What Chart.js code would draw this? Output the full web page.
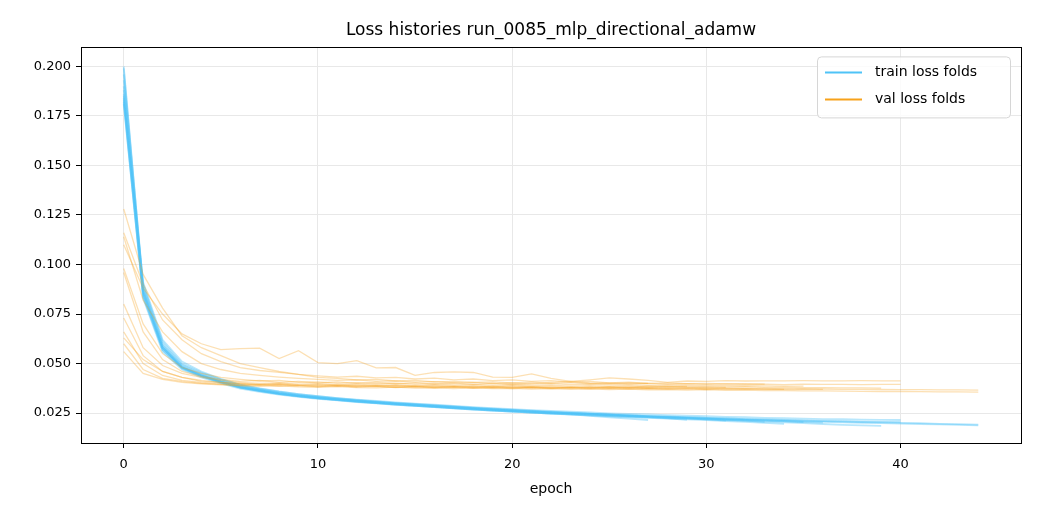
<!DOCTYPE html>
<html lang="en">
<head>
<meta charset="utf-8">
<title>Loss histories</title>
<script src="https://cdn.jsdelivr.net/npm/chart.js"></script>
<style>
  html, body { margin: 0; padding: 0; background: #fff; }
  #wrap { width: 1040px; height: 520px; }
</style>
</head>
<body>
<div id="wrap"><canvas id="lossChart" width="1040" height="520"></canvas></div>
<script>
// per-fold loss histories (one array per fold, index = epoch)
const trainLoss = [
  [0.200,0.088,0.059,0.049,0.0445,0.0412,0.0385,0.0368,0.0352,0.0340,0.0330,0.0321,0.0313,0.0306,0.0299,0.0293,0.0287,0.0281,0.0275,0.0269,0.0264,0.0259,0.0254,0.0250,0.0246,0.0242,0.0238,0.0235,0.0232,0.0229,0.0226,0.0223,0.0220,0.0217,0.0214,0.0212,0.0209,0.0207,0.0205,0.0203,0.0201,0.0199,0.0196,0.0194,0.0192],
  [0.183,0.084,0.057,0.0475,0.0435,0.0405,0.0378,0.0362,0.0347,0.0336,0.0326,0.0318,0.0310,0.0303,0.0296,0.0290,0.0284,0.0278,0.0272,0.0266,0.0261,0.0256,0.0252,0.0247,0.0243,0.0239,0.0235,0.0232,0.0229,0.0226,0.0223,0.0220,0.0217,0.0214,0.0211,0.0208,0.0206,0.0203,0.0201,0.0199,0.0197,0.0195,0.0193,0.0190,0.0188],
  [0.196,0.090,0.061,0.050,0.0455,0.0420,0.0392,0.0374,0.0358,0.0346,0.0335,0.0326,0.0318,0.0311,0.0304,0.0298,0.0292,0.0286,0.0280,0.0275,0.0270,0.0265,0.0261,0.0257,0.0253,0.0249,0.0246,0.0243,0.0240,0.0237,0.0234,0.0231,0.0229,0.0226,0.0224,0.0222,0.0220,0.0219,0.0217,0.0216,0.0215],
  [0.186,0.085,0.058,0.048,0.0440,0.0408,0.0381,0.0364,0.0349,0.0337,0.0327,0.0319,0.0311,0.0304,0.0297,0.0291,0.0285,0.0279,0.0273,0.0268,0.0263,0.0258,0.0254,0.0250,0.0246,0.0242,0.0238,0.0235,0.0232,0.0229,0.0226,0.0223,0.0220,0.0218,0.0215,0.0213,0.0211,0.0209,0.0207,0.0206,0.0205],
  [0.182,0.083,0.056,0.047,0.0430,0.0400,0.0374,0.0357,0.0343,0.0332,0.0322,0.0314,0.0306,0.0299,0.0292,0.0286,0.0280,0.0274,0.0268,0.0262,0.0257,0.0252,0.0247,0.0243,0.0239,0.0235,0.0231,0.0228,0.0225,0.0222,0.0219,0.0215,0.0211,0.0207,0.0203,0.0199,0.0195,0.0191,0.0188,0.0185],
  [0.193,0.087,0.059,0.0485,0.0442,0.0410,0.0383,0.0366,0.0350,0.0338,0.0328,0.0319,0.0311,0.0303,0.0296,0.0289,0.0283,0.0277,0.0271,0.0265,0.0260,0.0255,0.0250,0.0246,0.0242,0.0238,0.0234,0.0231,0.0228,0.0225,0.0222,0.0219,0.0216,0.0213,0.0209,0.0205],
  [0.190,0.086,0.058,0.048,0.0438,0.0406,0.0379,0.0362,0.0347,0.0335,0.0325,0.0316,0.0308,0.0300,0.0293,0.0286,0.0280,0.0274,0.0268,0.0262,0.0257,0.0252,0.0247,0.0242,0.0238,0.0234,0.0230,0.0226,0.0222,0.0218,0.0214,0.0210,0.0206,0.0201,0.0196],
  [0.188,0.089,0.060,0.0495,0.0450,0.0416,0.0388,0.0370,0.0355,0.0342,0.0332,0.0323,0.0315,0.0307,0.0300,0.0294,0.0288,0.0282,0.0276,0.0270,0.0265,0.0260,0.0255,0.0251,0.0247,0.0243,0.0239,0.0235,0.0231,0.0227,0.0222,0.0217,0.0212,0.0206],
  [0.199,0.087,0.058,0.0482,0.0440,0.0409,0.0382,0.0365,0.0350,0.0338,0.0328,0.0320,0.0312,0.0305,0.0298,0.0292,0.0286,0.0280,0.0274,0.0268,0.0263,0.0258,0.0253,0.0249,0.0245,0.0241,0.0237,0.0233,0.0229,0.0224,0.0218,0.0212],
  [0.185,0.091,0.062,0.051,0.0460,0.0423,0.0394,0.0375,0.0359,0.0346,0.0335,0.0325,0.0317,0.0309,0.0302,0.0296,0.0290,0.0284,0.0278,0.0272,0.0267,0.0262,0.0257,0.0252,0.0247,0.0242,0.0236,0.0230,0.0223,0.0216],
  [0.181,0.084,0.057,0.0478,0.0436,0.0404,0.0378,0.0361,0.0346,0.0334,0.0324,0.0315,0.0307,0.0300,0.0293,0.0287,0.0281,0.0275,0.0269,0.0263,0.0258,0.0253,0.0248,0.0243,0.0236,0.0229,0.0222,0.0215],
  [0.184,0.086,0.058,0.0482,0.0439,0.0407,0.0380,0.0363,0.0348,0.0336,0.0326,0.0317,0.0309,0.0302,0.0295,0.0289,0.0283,0.0277,0.0271,0.0266,0.0261,0.0256,0.0251,0.0247,0.0243,0.0239,0.0235,0.0231,0.0227,0.0223,0.0220,0.0217,0.0214,0.0211,0.0208,0.0205,0.0202]
];

const valLoss = [
  [0.063,0.052,0.046,0.043,0.041,0.0405,0.0400,0.0395,0.0398,0.0392,0.0390,0.0394,0.0388,0.0391,0.0386,0.0389,0.0384,0.0387,0.0382,0.0385,0.0380,0.0383,0.0379,0.0381,0.0377,0.0380,0.0376,0.0378,0.0375,0.0377,0.0374,0.0376,0.0373,0.0374,0.0372,0.0373,0.0371,0.0370,0.0370,0.0369,0.0368,0.0368,0.0367,0.0367,0.0366],
  [0.056,0.045,0.042,0.0405,0.0398,0.0392,0.0388,0.0385,0.0387,0.0382,0.0380,0.0384,0.0379,0.0377,0.0381,0.0376,0.0378,0.0374,0.0377,0.0373,0.0375,0.0371,0.0374,0.0370,0.0372,0.0369,0.0371,0.0367,0.0369,0.0366,0.0368,0.0365,0.0366,0.0363,0.0364,0.0362,0.0362,0.0361,0.0360,0.0359,0.0359,0.0358,0.0357,0.0357,0.0356],
  [0.110,0.088,0.075,0.065,0.060,0.057,0.0575,0.0578,0.0525,0.0565,0.0505,0.0500,0.0515,0.0478,0.0480,0.0440,0.0455,0.0458,0.0455,0.0432,0.0430,0.0448,0.0425,0.0410,0.0418,0.0428,0.0422,0.0415,0.0405,0.0412,0.0410,0.0414,0.0412,0.0413,0.0413,0.0414,0.0413,0.0413,0.0414,0.0413,0.0413],
  [0.128,0.095,0.078,0.064,0.058,0.054,0.050,0.048,0.046,0.0445,0.0430,0.0425,0.0418,0.0420,0.0412,0.0415,0.0408,0.0410,0.0405,0.0408,0.0402,0.0406,0.0400,0.0404,0.0398,0.0402,0.0397,0.0400,0.0396,0.0398,0.0395,0.0397,0.0395,0.0396,0.0394,0.0396,0.0395,0.0395,0.0394,0.0395,0.0395],
  [0.098,0.070,0.055,0.048,0.045,0.043,0.0420,0.0412,0.0415,0.0405,0.0408,0.0400,0.0404,0.0398,0.0401,0.0395,0.0398,0.0392,0.0395,0.0390,0.0393,0.0388,0.0391,0.0386,0.0389,0.0385,0.0387,0.0383,0.0386,0.0382,0.0384,0.0381,0.0383,0.0380,0.0381,0.0379,0.0378,0.0377,0.0377,0.0376],
  [0.114,0.082,0.066,0.056,0.050,0.047,0.0450,0.0440,0.0432,0.0425,0.0420,0.0415,0.0418,0.0410,0.0413,0.0406,0.0409,0.0402,0.0405,0.0399,0.0402,0.0396,0.0399,0.0394,0.0396,0.0392,0.0394,0.0390,0.0392,0.0389,0.0390,0.0388,0.0389,0.0387,0.0386,0.0386],
  [0.066,0.050,0.044,0.0415,0.0405,0.0398,0.0395,0.0390,0.0393,0.0387,0.0384,0.0389,0.0382,0.0385,0.0379,0.0383,0.0377,0.0381,0.0376,0.0379,0.0374,0.0378,0.0373,0.0376,0.0372,0.0375,0.0371,0.0373,0.0370,0.0372,0.0369,0.0371,0.0370,0.0370,0.0370],
  [0.116,0.090,0.072,0.062,0.055,0.051,0.048,0.0465,0.0455,0.0445,0.0438,0.0432,0.0436,0.0428,0.0430,0.0422,0.0426,0.0418,0.0422,0.0414,0.0418,0.0410,0.0414,0.0406,0.0410,0.0403,0.0406,0.0400,0.0403,0.0398,0.0400,0.0397,0.0398,0.0396],
  [0.080,0.058,0.049,0.045,0.043,0.0415,0.0405,0.0400,0.0403,0.0396,0.0399,0.0392,0.0396,0.0390,0.0393,0.0387,0.0391,0.0385,0.0389,0.0383,0.0387,0.0382,0.0385,0.0380,0.0384,0.0379,0.0382,0.0378,0.0381,0.0380,0.0380,0.0380],
  [0.060,0.047,0.0425,0.041,0.0400,0.0395,0.0390,0.0394,0.0386,0.0390,0.0384,0.0388,0.0383,0.0386,0.0380,0.0385,0.0379,0.0384,0.0378,0.0382,0.0377,0.0381,0.0376,0.0380,0.0377,0.0383,0.0378,0.0386,0.0384,0.0385],
  [0.096,0.066,0.052,0.046,0.0435,0.0420,0.0410,0.0415,0.0405,0.0410,0.0402,0.0408,0.0400,0.0405,0.0398,0.0403,0.0396,0.0402,0.0395,0.0400,0.0394,0.0399,0.0405,0.0410,0.0402,0.0398,0.0402,0.0400],
  [0.073,0.054,0.046,0.043,0.0415,0.0405,0.0398,0.0393,0.0396,0.0390,0.0393,0.0387,0.0390,0.0385,0.0388,0.0382,0.0386,0.0380,0.0384,0.0379,0.0382,0.0377,0.0380,0.0376,0.0379,0.0375,0.0378,0.0374,0.0376,0.0373,0.0375,0.0372,0.0373,0.0371,0.0371,0.0370,0.0370]
];

const xTicks = [0, 10, 20, 30, 40];
const yTicks = [0.025, 0.050, 0.075, 0.100, 0.125, 0.150, 0.175, 0.200];
const legendLabels = ['train loss folds', 'val loss folds'];

const TRAIN_COLOR = '#4fc3f7';
const VAL_COLOR = '#f7a21b';
const FONT = "'DejaVu Sans', sans-serif";

function toPoints(arr) {
  return arr.map((v, i) => ({ x: i, y: v }));
}

const datasets = [];
trainLoss.forEach((fold, i) => {
  datasets.push({
    label: 'train fold ' + (i + 1),
    data: toPoints(fold),
    borderColor: 'rgba(79,195,247,0.4)',
    borderWidth: 1.8,
    pointRadius: 0,
    tension: 0,
    order: 2
  });
  datasets.push({
    label: 'val fold ' + (i + 1),
    data: toPoints(valLoss[i]),
    borderColor: 'rgba(247,162,27,0.33)',
    borderWidth: 1.3,
    pointRadius: 0,
    tension: 0,
    order: 1
  });
});

// frame + legend box drawn like matplotlib
const framePlugin = {
  id: 'frame',
  afterDraw(chart) {
    const { ctx, chartArea: a } = chart;
    ctx.save();
    ctx.strokeStyle = '#000';
    ctx.lineWidth = 1;
    ctx.strokeRect(Math.round(a.left) + 0.5, Math.round(a.top) + 0.5,
                   Math.round(a.right - a.left), Math.round(a.bottom - a.top));

    // legend
    const bx = a.right - 204, by = a.top + 9, bw = 193, bh = 61;
    ctx.fillStyle = 'rgba(255,255,255,0.8)';
    ctx.strokeStyle = '#d6d6d6';
    ctx.beginPath();
    ctx.roundRect(bx + 0.5, by + 0.5, bw, bh, 4);
    ctx.fill();
    ctx.stroke();

    const colors = [TRAIN_COLOR, VAL_COLOR];
    ctx.font = '14px ' + FONT;
    ctx.textBaseline = 'middle';
    legendLabels.forEach((lab, i) => {
      const y = by + 16 + i * 27;
      ctx.strokeStyle = colors[i];
      ctx.lineWidth = 2;
      ctx.beginPath();
      ctx.moveTo(bx + 8, y);
      ctx.lineTo(bx + 45, y);
      ctx.stroke();
      ctx.fillStyle = '#000';
      ctx.fillText(lab, bx + 58, y);
    });
    ctx.restore();
  }
};

new Chart(document.getElementById('lossChart'), {
  type: 'line',
  data: { datasets },
  plugins: [framePlugin],
  options: {
    responsive: false,
    animation: false,
    events: [],
    layout: { padding: { left: 0, right: 19, top: 0, bottom: 0 } },
    plugins: {
      legend: { display: false },
      tooltip: { enabled: false },
      title: {
        display: true,
        text: 'Loss histories run_0085_mlp_directional_adamw',
        color: '#000',
        fullSize: false,
        font: { family: FONT, size: 17, weight: 'normal' },
        padding: { top: 20, bottom: 7 }
      }
    },
    scales: {
      x: {
        type: 'linear',
        min: -2.2,
        max: 46.2,
        afterBuildTicks(scale) { scale.ticks = xTicks.map(v => ({ value: v })); },
        afterFit(scale) { scale.height = 77; },
        ticks: {
          color: '#000',
          padding: 9,
          maxRotation: 0,
          font: { family: FONT, size: 13 },
          callback: v => String(v)
        },
        grid: { color: '#e8e8e8', tickColor: '#000', tickLength: 5, lineWidth: 1 },
        border: { display: false },
        title: {
          display: true,
          text: 'epoch',
          color: '#000',
          font: { family: FONT, size: 14 },
          padding: { top: 4, bottom: 22 }
        }
      },
      y: {
        min: 0.0099,
        max: 0.2096,
        afterBuildTicks(scale) { scale.ticks = yTicks.map(v => ({ value: v })); },
        afterFit(scale) { scale.width = 81; },
        ticks: {
          color: '#000',
          padding: 5,
          font: { family: FONT, size: 13 },
          callback: v => v.toFixed(3)
        },
        grid: { color: '#e8e8e8', tickColor: '#000', tickLength: 5, lineWidth: 1 },
        border: { display: false }
      }
    }
  }
});
</script>
</body>
</html>
